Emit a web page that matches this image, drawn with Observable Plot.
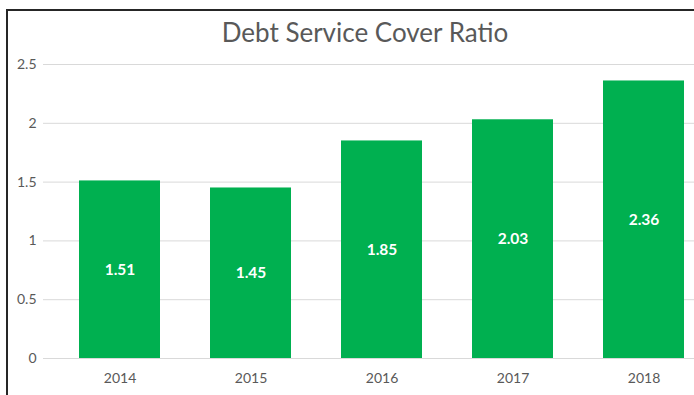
<!DOCTYPE html>
<html>
<head>
<meta charset="utf-8">
<script src="https://cdn.jsdelivr.net/npm/d3@7"></script>
<script src="https://cdn.jsdelivr.net/npm/@observablehq/plot@0.6"></script>
<style>
  html, body { margin: 0; padding: 0; background: #fff; overflow: hidden; }
  #frame { position: absolute; left: 6px; top: 9px; width: 700px; height: 400px;
           border-left: 2px solid #262626; border-top: 2px solid #262626; }
  #title { position: absolute; left: 0; top: 0; width: 730px; height: 50px; text-align: center;
           font-family: Lato, sans-serif; font-size: 26px; color: #595959; line-height: 64px; }
  #chart { position: absolute; left: 0; top: 50px; }
</style>
</head>
<body>
<div id="frame"></div>
<div id="title">Debt Service Cover Ratio</div>
<div id="chart"></div>
<script>
const years = ["2014", "2015", "2016", "2017", "2018"];
const ratios = [1.51, 1.45, 1.85, 2.03, 2.36];
const yTicks = [0, 0.5, 1, 1.5, 2, 2.5];

const data = years.map((year, i) => ({year, ratio: ratios[i]}));

const chart = Plot.plot({
  width: 694,
  height: 345,
  marginTop: 14,
  marginBottom: 37,
  marginLeft: 43,
  marginRight: 0,
  style: {fontFamily: "Lato, sans-serif", fontSize: "14px", color: "#595959", background: "transparent"},
  x: {domain: years, range: [53, 709], paddingInner: 0.383, paddingOuter: 0.1915, label: null},
  y: {domain: [0, 2.5], ticks: yTicks, label: null},
  marks: [
    Plot.gridY(yTicks, {stroke: "#d9d9d9", strokeOpacity: 1}),
    Plot.barY(data, {x: "year", y: "ratio", fill: "#00b050"}),
    Plot.text(data, {x: "year", y: d => d.ratio / 2, text: d => d.ratio.toFixed(2),
      fill: "white", fontWeight: "bold", fontSize: 15.5}),
    Plot.axisY(yTicks, {tickSize: 0, tickPadding: 7, tickFormat: d => String(d), fontSize: 14}),
    Plot.axisX({tickSize: 0, tickPadding: 15, fontSize: 14})
  ]
});
document.getElementById("chart").appendChild(chart);
</script>
</body>
</html>
